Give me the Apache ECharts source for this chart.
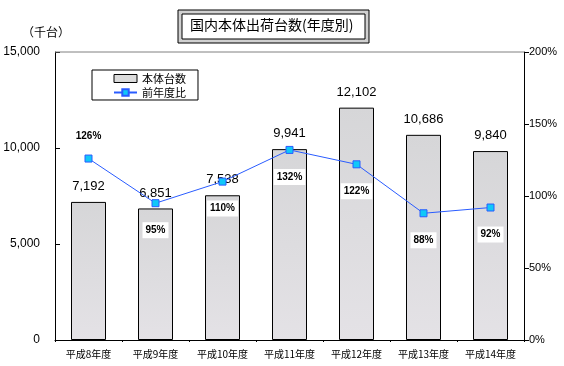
<!DOCTYPE html>
<html><head><meta charset="utf-8">
<script src="https://cdn.jsdelivr.net/npm/echarts@6/dist/echarts.min.js"></script>
<style>html,body{margin:0;padding:0;background:#fff}#c{width:564px;height:366px}</style>
</head><body><div id="c"></div>
<script>
const categories = ['平成8年度','平成9年度','平成10年度','平成11年度','平成12年度','平成13年度','平成14年度'];
const units = [7192, 6851, 7538, 9941, 12102, 10686, 9840];
const ratio = [126, 95, 110, 132, 122, 88, 92];
const leftTicks = [0, 5000, 10000, 15000];
const rightTicks = [0, 50, 100, 150, 200];

const chart = echarts.init(document.getElementById('c'));
const ratioData = ratio.map((v, i) => {
  if (i === 0) return {value: v, label: {position: 'top', distance: 10, backgroundColor: 'transparent'}};
  return {value: v};
});
chart.setOption({
  animation: false,
  grid: {left: 55, right: 40, top: 52, bottom: 26},
  legend: {
    orient: 'vertical', left: 92, top: 70, width: 112,
    backgroundColor: '#fff', borderColor: '#000', borderWidth: 1,
    padding: [3, 12, 2, 21], itemGap: 3, itemWidth: 23, itemHeight: 8,
    textStyle: {fontFamily: 'Noto Sans CJK JP', fontSize: 11, color: '#000'},
    data: [
      {name: '本体台数', icon: 'rect', itemStyle: {color: '#dcdcdc', borderColor: '#000', borderWidth: 1}},
      {name: '前年度比'}
    ]
  },
  xAxis: {
    type: 'category', data: categories,
    axisLine: {lineStyle: {color: '#000'}},
    axisTick: {show: true, length: 2, lineStyle: {color: '#000'}},
    axisLabel: {fontFamily: 'Noto Sans CJK JP', fontSize: 10, color: '#000', margin: 9}
  },
  yAxis: [
    {type: 'value', min: 0, max: 15000, interval: 5000,
     axisLine: {show: true, lineStyle: {color: '#000'}},
     axisTick: {show: true, inside: true, length: 5, lineStyle: {color: '#000'}},
     splitLine: {show: false},
     axisLabel: {fontFamily: 'Liberation Sans', fontSize: 12, color: '#000', margin: 15,
       formatter: v => v.toLocaleString('en-US')}},
    {type: 'value', min: 0, max: 200, interval: 50,
     axisLine: {show: true, lineStyle: {color: '#000'}},
     axisTick: {show: true, length: 5, lineStyle: {color: '#000'}},
     splitLine: {show: false},
     axisLabel: {fontFamily: 'Liberation Sans', fontSize: 11, color: '#000', margin: 5,
       formatter: v => v + '%'}}
  ],
  series: [
    {name: '本体台数', type: 'bar', data: units, barWidth: 35, yAxisIndex: 0,
     itemStyle: {color: {type: 'linear', x: 0, y: 0, x2: 0, y2: 1,
       colorStops: [{offset: 0, color: '#d6d6d8'}, {offset: 1, color: '#e4e2e6'}]},
       borderColor: '#000', borderWidth: 1},
     label: {show: true, position: 'top', distance: 9, color: '#000',
       fontFamily: 'Liberation Sans', fontSize: 13,
       formatter: p => p.value.toLocaleString('en-US')},
     z: 2},
    {name: '前年度比', type: 'line', data: ratioData, yAxisIndex: 1,
     lineStyle: {color: '#2a5cff', width: 1},
     symbol: 'rect', symbolSize: 7,
     itemStyle: {color: '#10c8f8', borderColor: '#2a5cff', borderWidth: 1},
     label: {show: true, position: 'bottom', distance: 15, color: '#000',
       fontFamily: 'Liberation Sans', fontSize: 10, fontWeight: 'bold',
       backgroundColor: '#fff', padding: [3, 3],
       formatter: p => p.value + '%'},
     z: 5}
  ],
  graphic: [
    {type: 'line', shape: {x1: 55, y1: 52, x2: 524, y2: 52}, style: {stroke: '#808080', lineWidth: 1}, z: 1},
    {type: 'rect', shape: {x: 178, y: 10, width: 191, height: 33}, style: {fill: '#d0d0d0', stroke: '#000', lineWidth: 1}},
    {type: 'rect', shape: {x: 182, y: 14, width: 183, height: 25}, style: {fill: '#fff', stroke: '#000', lineWidth: 1}},
    {type: 'text', left: 190, top: 18, style: {text: '国内本体出荷台数(年度別)', font: '14px "Noto Sans CJK JP"', fill: '#000'}},
    {type: 'text', left: 22, top: 26, style: {text: '（千台）', font: '12px "Noto Sans CJK JP"', fill: '#000'}}
  ]
});
</script></body></html>
